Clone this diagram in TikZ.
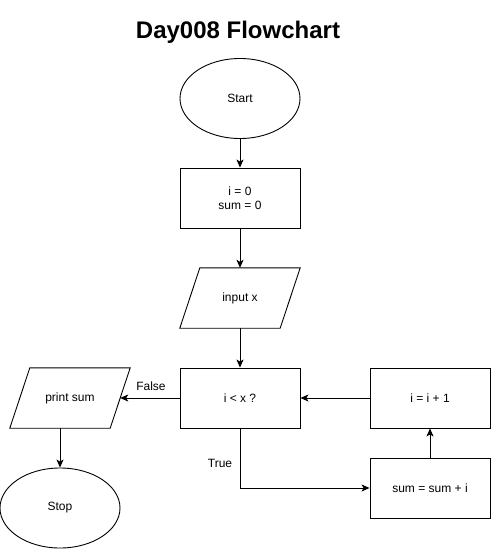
\documentclass[tikz,border=0pt]{standalone}
\usepackage{fontspec}
\setmainfont{Liberation Sans}
\usetikzlibrary{shapes.geometric,arrows.meta}
\begin{document}
\begin{tikzpicture}[x=1pt,y=-1pt,
  every node/.style={font=\fontsize{12}{14}\selectfont, inner sep=0pt, align=center},
  term/.style={draw, ellipse, minimum width=120pt, minimum height=80pt, line width=0.9pt},
  proc/.style={draw, rectangle, minimum width=120pt, minimum height=60pt, line width=0.9pt},
  io/.style={minimum width=100pt, minimum height=60pt},
  para/.style={line width=0.9pt},
  flow/.style={line width=0.9pt, -{Stealth[length=8pt,width=7pt,inset=2pt]}},
  lbl/.style={font=\fontsize{12}{14}\selectfont}
]
\useasboundingbox (0,0) rectangle (491,549);
\node[font=\bfseries\fontsize{24}{28}\selectfont] (title) at (238,32) {Day008 Flowchart};
\node[term] (start) at (240,98.5) {Start};
\node[proc] (init) at (240,198) {i = 0\\sum = 0};
\node[io] (input) at (240,298) {input x};
\draw[para] ([xshift=10pt]input.north west) -- ([xshift=10pt]input.north east) -- ([xshift=-10pt]input.south east) -- ([xshift=-10pt]input.south west) -- cycle;
\node[proc] (cond) at (240,398) {i {\textless} x ?};
\node[io] (print) at (70,398) {print sum};
\draw[para] ([xshift=10pt]print.north west) -- ([xshift=10pt]print.north east) -- ([xshift=-10pt]print.south east) -- ([xshift=-10pt]print.south west) -- cycle;
\node[term] (stop) at (60,508) {Stop};
\node[proc] (inc) at (430,398) {i = i + 1};
\node[proc] (add) at (430,488) {sum = sum + i};

\draw[flow] (start) -- (init);
\draw[flow] (init) -- (input);
\draw[flow] (input) -- (cond);
\draw[flow] (cond.west) -- (print.east);
\draw[flow] (stop.north |- print.south) -- (stop.north);
\draw[flow] (cond.south) |- (add.west);
\draw[flow] (add.north) -- (inc.south);
\draw[flow] (inc.west) -- (cond.east);
\node[lbl] (lfalse) at (151,386) {False};
\node[lbl] (ltrue) at (220,463) {True};
\end{tikzpicture}
\end{document}
